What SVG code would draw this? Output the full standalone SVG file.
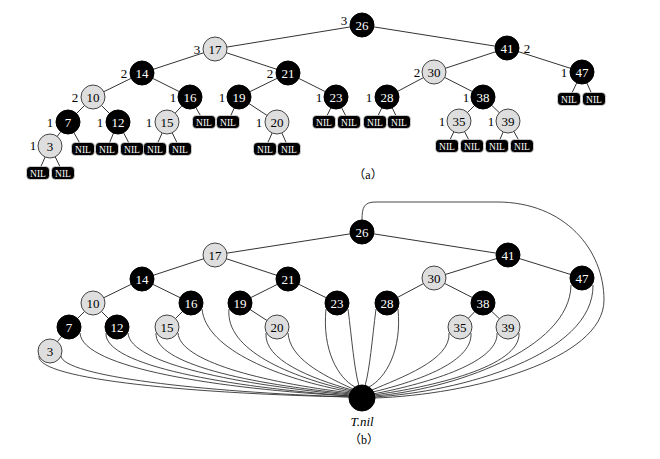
<svg xmlns="http://www.w3.org/2000/svg" width="660" height="459" viewBox="0 0 660 459">
<style>
.e{stroke:#333;stroke-width:1;fill:none}
.c{stroke:#333;stroke-width:0.9;fill:none}
.b circle,circle.b{fill:#000;stroke:#000}
.r circle{fill:#dedede;stroke:#444;stroke-width:1}
text{font-family:"Liberation Serif","Times New Roman",serif;font-size:13px;text-anchor:middle}
.b text{fill:#fff}
.r text{fill:#000}
.nil rect{fill:#000;stroke:#fff;stroke-width:0.6}
.nil text{fill:#fff;font-size:9.5px}
g text.bh{fill:#000;font-size:13px}
.cap{font-family:"Liberation Serif","Noto Sans CJK SC",serif;font-size:12px}
</style>
<rect width="660" height="459" fill="#fff"/>
<!-- Part (a) edges -->
<g id="edges-a" class="e">
<path d="M362,25L215,49M362,25L507,48M215,49L142,73M215,49L288,73M507,48L434,72M507,48L582,72M142,73L93,97M142,73L190,97M288,73L239,97M288,73L336,97M434,72L387,97M434,72L483,97M93,97L68,122M93,97L118,122M190,97L167,122M239,97L277,122M483,97L459,121M483,97L508,121M68,122L50,146"/>
<path d="M50,146L38,173M50,146L63,173M68,122L83,149M118,122L107,149M118,122L132,149M167,122L155,149M167,122L180,149M190,97L204,122M239,97L228,122M277,122L265,149M277,122L289,149M336,97L324,122M336,97L349,122M387,97L375,122M387,97L399,122M459,121L447,146M459,121L472,146M508,121L497,146M508,121L522,146M582,72L569,99M582,72L594,99"/>
</g>
<g id="nils-a" class="nil">
<g transform="translate(38,173)"><rect x="-11.5" y="-6.5" width="23" height="13" rx="4"/><text y="3.5">NIL</text></g>
<g transform="translate(63,173)"><rect x="-11.5" y="-6.5" width="23" height="13" rx="4"/><text y="3.5">NIL</text></g>
<g transform="translate(83,149)"><rect x="-11.5" y="-6.5" width="23" height="13" rx="4"/><text y="3.5">NIL</text></g>
<g transform="translate(107,149)"><rect x="-11.5" y="-6.5" width="23" height="13" rx="4"/><text y="3.5">NIL</text></g>
<g transform="translate(132,149)"><rect x="-11.5" y="-6.5" width="23" height="13" rx="4"/><text y="3.5">NIL</text></g>
<g transform="translate(155,149)"><rect x="-11.5" y="-6.5" width="23" height="13" rx="4"/><text y="3.5">NIL</text></g>
<g transform="translate(180,149)"><rect x="-11.5" y="-6.5" width="23" height="13" rx="4"/><text y="3.5">NIL</text></g>
<g transform="translate(204,122)"><rect x="-11.5" y="-6.5" width="23" height="13" rx="4"/><text y="3.5">NIL</text></g>
<g transform="translate(228,122)"><rect x="-11.5" y="-6.5" width="23" height="13" rx="4"/><text y="3.5">NIL</text></g>
<g transform="translate(265,149)"><rect x="-11.5" y="-6.5" width="23" height="13" rx="4"/><text y="3.5">NIL</text></g>
<g transform="translate(289,149)"><rect x="-11.5" y="-6.5" width="23" height="13" rx="4"/><text y="3.5">NIL</text></g>
<g transform="translate(324,122)"><rect x="-11.5" y="-6.5" width="23" height="13" rx="4"/><text y="3.5">NIL</text></g>
<g transform="translate(349,122)"><rect x="-11.5" y="-6.5" width="23" height="13" rx="4"/><text y="3.5">NIL</text></g>
<g transform="translate(375,122)"><rect x="-11.5" y="-6.5" width="23" height="13" rx="4"/><text y="3.5">NIL</text></g>
<g transform="translate(399,122)"><rect x="-11.5" y="-6.5" width="23" height="13" rx="4"/><text y="3.5">NIL</text></g>
<g transform="translate(447,146)"><rect x="-11.5" y="-6.5" width="23" height="13" rx="4"/><text y="3.5">NIL</text></g>
<g transform="translate(472,146)"><rect x="-11.5" y="-6.5" width="23" height="13" rx="4"/><text y="3.5">NIL</text></g>
<g transform="translate(497,146)"><rect x="-11.5" y="-6.5" width="23" height="13" rx="4"/><text y="3.5">NIL</text></g>
<g transform="translate(522,146)"><rect x="-11.5" y="-6.5" width="23" height="13" rx="4"/><text y="3.5">NIL</text></g>
<g transform="translate(569,99)"><rect x="-11.5" y="-6.5" width="23" height="13" rx="4"/><text y="3.5">NIL</text></g>
<g transform="translate(594,99)"><rect x="-11.5" y="-6.5" width="23" height="13" rx="4"/><text y="3.5">NIL</text></g>
</g>
<!-- Part (a) nodes -->
<g id="a26" class="b"><circle cx="362" cy="25" r="12"/><text x="362" y="29.5">26</text><text class="bh" x="344" y="24.5">3</text></g>
<g id="a17" class="r"><circle cx="215" cy="49" r="12"/><text x="215" y="53.5">17</text><text class="bh" x="197" y="53.5">3</text></g>
<g id="a41" class="b"><circle cx="507" cy="48" r="12"/><text x="507" y="52.5">41</text><text class="bh" x="527" y="52.5">2</text></g>
<g id="a14" class="b"><circle cx="142" cy="73" r="12"/><text x="142" y="77.5">14</text><text class="bh" x="124" y="77.5">2</text></g>
<g id="a21" class="b"><circle cx="288" cy="73" r="12"/><text x="288" y="77.5">21</text><text class="bh" x="270" y="77.5">2</text></g>
<g id="a30" class="r"><circle cx="434" cy="72" r="12"/><text x="434" y="76.5">30</text><text class="bh" x="417" y="76.5">2</text></g>
<g id="a47" class="b"><circle cx="582" cy="72" r="12"/><text x="582" y="76.5">47</text><text class="bh" x="564" y="76.5">1</text></g>
<g id="a10" class="r"><circle cx="93" cy="97" r="12"/><text x="93" y="101.5">10</text><text class="bh" x="75" y="101.5">2</text></g>
<g id="a16" class="b"><circle cx="190" cy="97" r="12"/><text x="190" y="101.5">16</text><text class="bh" x="173" y="101.5">1</text></g>
<g id="a19" class="b"><circle cx="239" cy="97" r="12"/><text x="239" y="101.5">19</text><text class="bh" x="222" y="101.5">1</text></g>
<g id="a23" class="b"><circle cx="336" cy="97" r="12"/><text x="336" y="101.5">23</text><text class="bh" x="319" y="101.5">1</text></g>
<g id="a28" class="b"><circle cx="387" cy="97" r="12"/><text x="387" y="101.5">28</text><text class="bh" x="369" y="101.5">1</text></g>
<g id="a38" class="b"><circle cx="483" cy="97" r="12"/><text x="483" y="101.5">38</text><text class="bh" x="466" y="101.5">1</text></g>
<g id="a7" class="b"><circle cx="68" cy="122" r="12"/><text x="68" y="126.5">7</text><text class="bh" x="50" y="126.5">1</text></g>
<g id="a12" class="b"><circle cx="118" cy="122" r="12"/><text x="118" y="126.5">12</text><text class="bh" x="100" y="126.5">1</text></g>
<g id="a15" class="r"><circle cx="167" cy="122" r="12"/><text x="167" y="126.5">15</text><text class="bh" x="149" y="126.5">1</text></g>
<g id="a20" class="r"><circle cx="277" cy="122" r="12"/><text x="277" y="126.5">20</text><text class="bh" x="259" y="126.5">1</text></g>
<g id="a35" class="r"><circle cx="459" cy="121" r="12"/><text x="459" y="125.5">35</text><text class="bh" x="442" y="125.5">1</text></g>
<g id="a39" class="r"><circle cx="508" cy="121" r="12"/><text x="508" y="125.5">39</text><text class="bh" x="491" y="125.5">1</text></g>
<g id="a3" class="r"><circle cx="50" cy="146" r="12"/><text x="50" y="150.5">3</text><text class="bh" x="33" y="149.5">1</text></g>
<text class="cap" x="368" y="179">（a）</text>
<!-- Part (b) edges -->
<g id="edges-b" class="e">
<path d="M362,232L215,255M362,232L508,255M215,255L142,279M215,255L288,279M508,255L434,278M508,255L582,278M142,279L93,303M142,279L191,303M288,279L240,303M288,279L337,303M434,278L387,303M434,278L483,303M93,303L69,327M93,303L117,327M191,303L167,327M240,303L277,327M483,303L460,327M483,303L508,327M69,327L50,351"/>
</g>
<g id="sentinel-links" class="c">
<path d="M39,356C36,380 200,394 351,397"/>
<path d="M61,356C63,376 200,392 351,397"/>
<path d="M80,333C82,368 220,389 351,396"/>
<path d="M106,333C104,366 230,387 351,396"/>
<path d="M128,333C130,364 240,385 351,395"/>
<path d="M156,333C154,364 250,384 351,394"/>
<path d="M178,333C180,361 260,382 351,393"/>
<path d="M202,309C206,350 280,379 351,392"/>
<path d="M229,309C225,350 290,377 352,391"/>
<path d="M266,333C264,360 310,378 352,390"/>
<path d="M288,333C290,358 320,374 353,389"/>
<path d="M326,309C322,350 338,378 355,387"/>
<path d="M348,309C352,340 354,368 359,386"/>
<path d="M376,309C372,340 370,368 365,386"/>
<path d="M398,309C402,350 386,378 369,387"/>
<path d="M449,333C451,360 400,378 372,390"/>
<path d="M471,333C473,364 410,383 373,392"/>
<path d="M497,333C499,364 420,385 373,394"/>
<path d="M519,333C521,367 430,387 374,395"/>
<path d="M571,285C570,350 450,390 374,396"/>
<path d="M593,285C594,355 460,392 374,397"/>
<path d="M362,220C362,207 364,202 376,202L497,202C565,202 604,250 604,300C604,360 470,395 374,398"/>
</g>
<!-- Part (b) nodes -->
<g id="b26" class="b"><circle cx="362" cy="232" r="12"/><text x="362" y="236.5">26</text></g>
<g id="b17" class="r"><circle cx="215" cy="255" r="12"/><text x="215" y="259.5">17</text></g>
<g id="b41" class="b"><circle cx="508" cy="255" r="12"/><text x="508" y="259.5">41</text></g>
<g id="b14" class="b"><circle cx="142" cy="279" r="12"/><text x="142" y="283.5">14</text></g>
<g id="b21" class="b"><circle cx="288" cy="279" r="12"/><text x="288" y="283.5">21</text></g>
<g id="b30" class="r"><circle cx="434" cy="278" r="12"/><text x="434" y="282.5">30</text></g>
<g id="b47" class="b"><circle cx="582" cy="278" r="12"/><text x="582" y="282.5">47</text></g>
<g id="b10" class="r"><circle cx="93" cy="303" r="12"/><text x="93" y="307.5">10</text></g>
<g id="b16" class="b"><circle cx="191" cy="303" r="12"/><text x="191" y="307.5">16</text></g>
<g id="b19" class="b"><circle cx="240" cy="303" r="12"/><text x="240" y="307.5">19</text></g>
<g id="b23" class="b"><circle cx="337" cy="303" r="12"/><text x="337" y="307.5">23</text></g>
<g id="b28" class="b"><circle cx="387" cy="303" r="12"/><text x="387" y="307.5">28</text></g>
<g id="b38" class="b"><circle cx="483" cy="303" r="12"/><text x="483" y="307.5">38</text></g>
<g id="b7" class="b"><circle cx="69" cy="327" r="12"/><text x="69" y="331.5">7</text></g>
<g id="b12" class="b"><circle cx="117" cy="327" r="12"/><text x="117" y="331.5">12</text></g>
<g id="b15" class="r"><circle cx="167" cy="327" r="12"/><text x="167" y="331.5">15</text></g>
<g id="b20" class="r"><circle cx="277" cy="327" r="12"/><text x="277" y="331.5">20</text></g>
<g id="b35" class="r"><circle cx="460" cy="327" r="12"/><text x="460" y="331.5">35</text></g>
<g id="b39" class="r"><circle cx="508" cy="327" r="12"/><text x="508" y="331.5">39</text></g>
<g id="b3" class="r"><circle cx="50" cy="351" r="12"/><text x="50" y="355.5">3</text></g>
<g id="tnil"><circle class="b" cx="362" cy="398" r="13"/><text x="362" y="426" font-style="italic" font-size="12">T.nil</text></g>
<text class="cap" x="364" y="444">（b）</text>
</svg>
